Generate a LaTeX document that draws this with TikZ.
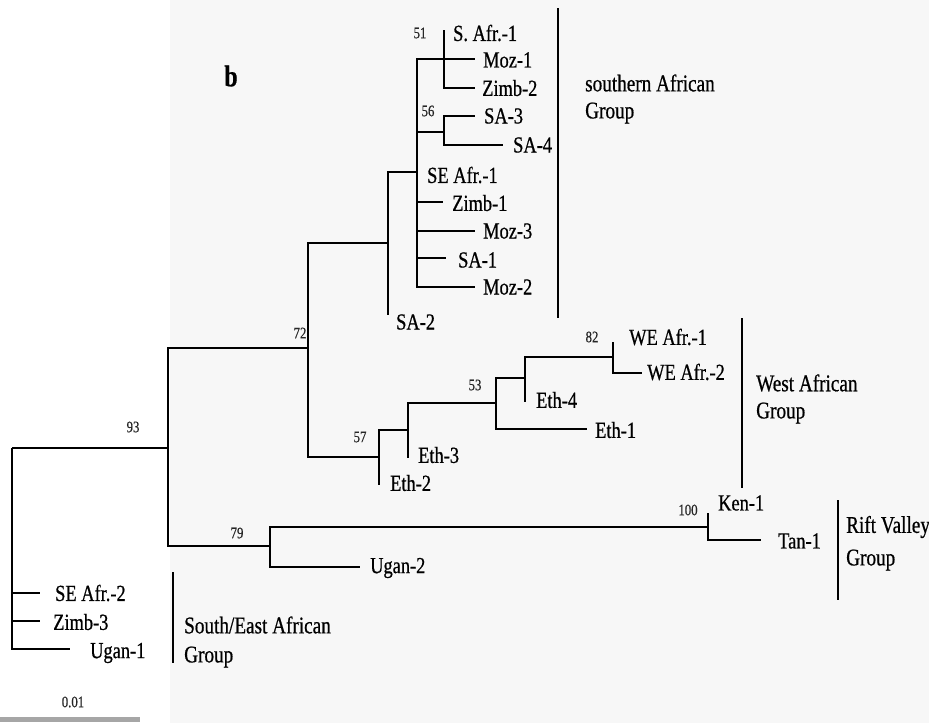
\documentclass[tikz,border=0pt]{standalone}
\usepackage{fontspec}
\setmainfont{Liberation Serif}[FakeStretch=0.8, FakeBold=0.6]
\begin{document}
\begin{tikzpicture}[x=1pt, y=-1pt,
    branch/.style={black, line width=2.4pt},
    bracket/.style={black, line width=1.8pt},
    taxon/.style={anchor=west, inner sep=0pt, font=\fontsize{23}{23}\selectfont},
    boot/.style={inner sep=0pt, text=black!85, font=\fontsize{16}{16}\selectfont},
    grouplab/.style={anchor=west, inner sep=0pt, font=\fontsize{24}{24}\selectfont}]
    \definecolor{scanGray}{RGB}{247,247,247}
    \useasboundingbox (0,0) rectangle (929,723);
    \fill[white] (0,0) rectangle (929,723);
    \fill[scanGray] (170,0) rectangle (929,723);

    % Internal nodes (x of the vertical bar, y of the incoming branch)
    \coordinate (root) at (12,448);
    \coordinate (nA) at (168,448);
    \coordinate (nB) at (308,348);
    \coordinate (nC) at (270,546);
    \coordinate (nD) at (388,243);
    \coordinate (nF) at (417,172);
    \coordinate (nG) at (444,59);
    \coordinate (nH) at (444,132);
    \coordinate (nE) at (379,457);
    \coordinate (nI) at (408,430);
    \coordinate (nJ) at (496,403);
    \coordinate (nK) at (525,378);
    \coordinate (nL) at (613,357);
    \coordinate (nM) at (708,527);

    % Branch tips
    \coordinate (tSafr1) at (444,30);
    \coordinate (tMoz1)  at (475,59);
    \coordinate (tZimb2) at (475,88);
    \coordinate (tSa3)   at (475,116);
    \coordinate (tSa4)   at (503,145);
    \coordinate (tZimb1) at (443,202);
    \coordinate (tMoz3)  at (475,231);
    \coordinate (tSa1)   at (446,258);
    \coordinate (tMoz2)  at (475,287);
    \coordinate (tSa2)   at (388,315);
    \coordinate (tWe1)   at (613,342);
    \coordinate (tWe2)   at (642,373);
    \coordinate (tEth4)  at (525,402);
    \coordinate (tEth1)  at (587,429);
    \coordinate (tEth3)  at (408,458);
    \coordinate (tEth2)  at (379,485);
    \coordinate (tKen1)  at (708,513);
    \coordinate (tTan1)  at (761,540);
    \coordinate (tUgan2) at (360,567);
    \coordinate (tSea2)  at (40,593);
    \coordinate (tZimb3) at (40,621);
    \coordinate (tUgan1) at (70,649);

    % Branches
    \draw[branch] (root) |- (nA);
    \draw[branch] (root) |- (tSea2);
    \draw[branch] (root) |- (tZimb3);
    \draw[branch] (root) |- (tUgan1);
    \draw[branch] (nA) |- (nB);
    \draw[branch] (nA) |- (nC);
    \draw[branch] (nB) |- (nD);
    \draw[branch] (nB) |- (nE);
    \draw[branch] (nD) |- (nF);
    \draw[branch] (nD) |- (tSa2);
    \draw[branch] (nF) |- (nG);
    \draw[branch] (nF) |- (nH);
    \draw[branch] (nF) |- (tZimb1);
    \draw[branch] (nF) |- (tMoz3);
    \draw[branch] (nF) |- (tSa1);
    \draw[branch] (nF) |- (tMoz2);
    \draw[branch] (nG) |- (tSafr1);
    \draw[branch] (nG) |- (tMoz1);
    \draw[branch] (nG) |- (tZimb2);
    \draw[branch] (nH) |- (tSa3);
    \draw[branch] (nH) |- (tSa4);
    \draw[branch] (nE) |- (nI);
    \draw[branch] (nE) |- (tEth2);
    \draw[branch] (nI) |- (nJ);
    \draw[branch] (nI) |- (tEth3);
    \draw[branch] (nJ) |- (nK);
    \draw[branch] (nJ) |- (tEth1);
    \draw[branch] (nK) |- (nL);
    \draw[branch] (nK) |- (tEth4);
    \draw[branch] (nL) |- (tWe1);
    \draw[branch] (nL) |- (tWe2);
    \draw[branch] (nC) |- (nM);
    \draw[branch] (nC) |- (tUgan2);
    \draw[branch] (nM) |- (tKen1);
    \draw[branch] (nM) |- (tTan1);

    % Taxon labels
    \node[taxon] (lSafr1) at (453,33)  {S. Afr.-1};
    \node[taxon] (lMoz1)  at (483,60)  {Moz-1};
    \node[taxon] (lZimb2) at (482,88)  {Zimb-2};
    \node[taxon] (lSa3)   at (484,116) {SA-3};
    \node[taxon] (lSa4)   at (513,145) {SA-4};
    \node[taxon] (lSea1)  at (427,175) {SE Afr.-1};
    \node[taxon] (lZimb1) at (452,203) {Zimb-1};
    \node[taxon] (lMoz3)  at (483,231) {Moz-3};
    \node[taxon] (lSa1)   at (458,260) {SA-1};
    \node[taxon] (lMoz2)  at (483,287) {Moz-2};
    \node[taxon] (lSa2)   at (396,322) {SA-2};
    \node[taxon] (lWe1)   at (629,337) {WE Afr.-1};
    \node[taxon] (lWe2)   at (647,372) {WE Afr.-2};
    \node[taxon] (lEth4)  at (536,400) {Eth-4};
    \node[taxon] (lEth1)  at (595,430) {Eth-1};
    \node[taxon] (lEth3)  at (418,455) {Eth-3};
    \node[taxon] (lEth2)  at (390,483) {Eth-2};
    \node[taxon] (lKen1)  at (718,503) {Ken-1};
    \node[taxon] (lTan1)  at (778,541) {Tan-1};
    \node[taxon] (lUgan2) at (370,568) {Ugan-2};
    \node[taxon] (lSea2)  at (55,593)  {SE Afr.-2};
    \node[taxon] (lZimb3) at (53,622)  {Zimb-3};
    \node[taxon] (lUgan1) at (90,653)  {Ugan-1};

    % Bootstrap values
    \node[boot] (b93)  at (133,427) {93};
    \node[boot] (b72)  at (300,333) {72};
    \node[boot] (b51)  at (420,33)  {51};
    \node[boot] (b56)  at (428,111) {56};
    \node[boot] (b57)  at (360,437) {57};
    \node[boot] (b53)  at (475,385) {53};
    \node[boot] (b82)  at (592,337) {82};
    \node[boot] (b79)  at (237,533) {79};
    \node[boot] (b100) at (688,510) {100};

    % Group brackets and names
    \draw[bracket] (558,8) -- (558,318);
    \node[grouplab] (gSouth) at (585,83)  {southern African};
    \node[grouplab] (gSouth2) at (585,113) {Group};
    \draw[bracket] (742,318) -- (742,488);
    \node[grouplab] (gWest) at (756,383) {West African};
    \node[grouplab] (gWest2) at (756,413) {Group};
    \draw[bracket] (838,500) -- (838,600);
    \node[grouplab] (gRift) at (846,527) {Rift Valley};
    \node[grouplab] (gRift2) at (846,560) {Group};
    \draw[bracket] (173,572) -- (173,663);
    \node[grouplab] (gSE) at (184,625) {South/East African};
    \node[grouplab] (gSE2) at (184,657) {Group};

    % Panel letter and scale bar
    \node[font=\fontsize{30}{30}\selectfont\bfseries] (panel) at (231,76) {b};
    \node[boot] (scale) at (73,702) {0.01};
    \draw[gray!70, line width=5pt] (0,719) -- (140,719);
\end{tikzpicture}
\end{document}
